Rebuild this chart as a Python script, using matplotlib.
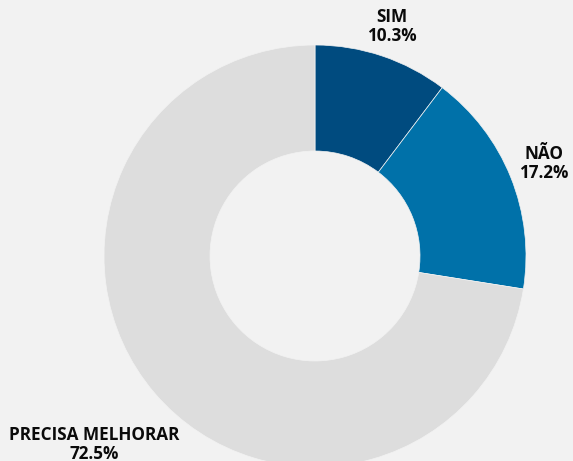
import matplotlib.pyplot as plt
import numpy as np

labels = ['SIM', 'NÃO', 'PRECISA MELHORAR']
values = [10.3, 17.2, 72.5]
colors = ['#004b7f', '#0071a9', '#dddddd']
label_dist = [242, 247, 290]

W, H = 573, 461
fig = plt.figure(figsize=(W / 100, H / 100), dpi=100, facecolor='#f2f2f2')
ax = fig.add_axes([0, 0, 1, 1])
ax.set_facecolor('#f2f2f2')

cx, cy, r = 315, H - 256, 211
wedges, _ = ax.pie(values, colors=colors, startangle=90, counterclock=False,
                   center=(cx, cy), radius=r, frame=True,
                   wedgeprops=dict(width=106, edgecolor='#f2f2f2', linewidth=0.5))

for w, lab, v, d in zip(wedges, labels, values, label_dist):
    ang = np.deg2rad((w.theta1 + w.theta2) / 2)
    x = cx + d * np.cos(ang)
    y = cy + d * np.sin(ang)
    ax.text(x, y, f'{lab}\n{v}%', ha='center', va='center',
            fontsize=12.3, fontweight='bold', family='Open Sans',
            linespacing=1.1, color='#0a0a0a')

ax.set_xlim(0, W)
ax.set_ylim(0, H)
ax.set_aspect('equal')
ax.axis('off')

fig.savefig('out.png', dpi=100, facecolor='#f2f2f2')
